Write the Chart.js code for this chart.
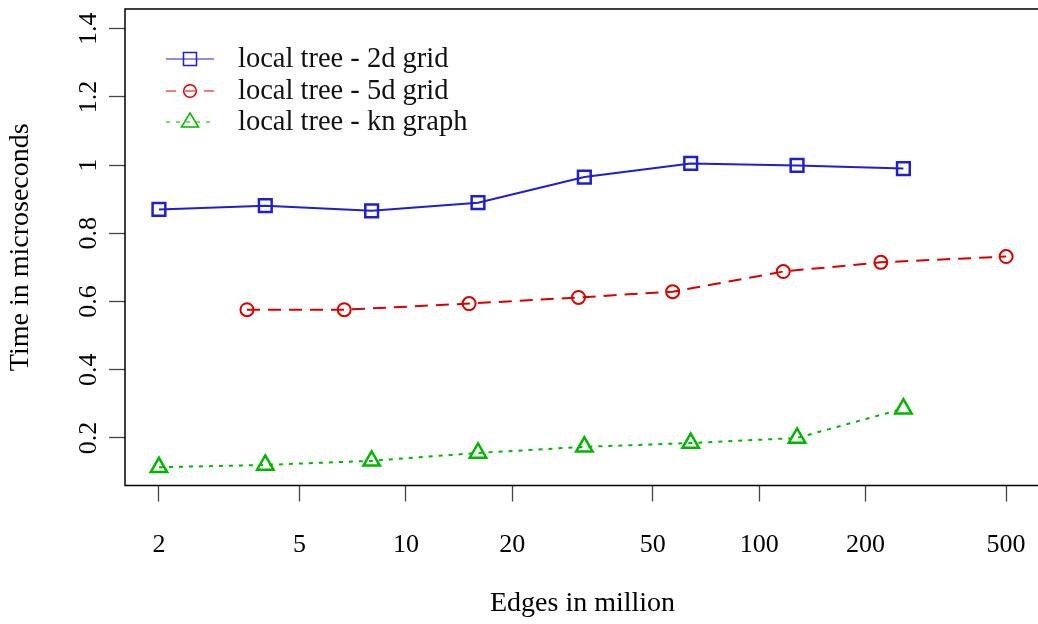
<!DOCTYPE html>
<html>
<head>
<meta charset="utf-8">
<script src="https://cdn.jsdelivr.net/npm/chart.js@4/dist/chart.umd.min.js"></script>
<style>
  html, body { margin: 0; padding: 0; background: #fff; overflow: hidden; }
  #wrap { width: 1040px; height: 624px; }
</style>
</head>
<body>
<div id="wrap"><canvas id="myChart"></canvas></div>
<script>
// data
const edges2d = [2, 4, 8, 16, 32, 64, 128, 256];
const time2d = [0.870, 0.881, 0.866, 0.890, 0.965, 1.005, 0.999, 0.990];

const edges5d = [3.55, 6.69, 15.1, 30.8, 56.9, 117, 221, 500];
const time5d = [0.576, 0.576, 0.594, 0.612, 0.629, 0.688, 0.715, 0.732];

const edgesKn = [2, 4, 8, 16, 32, 64, 128, 256];
const timeKn = [0.114, 0.121, 0.133, 0.156, 0.174, 0.185, 0.200, 0.286];

const xTicks = [2, 5, 10, 20, 50, 100, 200, 500];
const yTicks = [0.2, 0.4, 0.6, 0.8, 1, 1.2, 1.4];

const seriesNames = ['local tree - 2d grid', 'local tree - 5d grid', 'local tree - kn graph'];

const FONT = '"Liberation Serif", "DejaVu Serif", serif';
const BLUE = '#1f1fcf';
const RED = '#d40000';
const GREEN = '#00b400';

function pts(xs, ys) {
  return xs.map((x, i) => ({ x: x, y: ys[i] }));
}

// y tick labels are rotated like in R, so we draw them ourselves
// plus the legend and the box (left, top, bottom)
const extras = {
  id: 'extras',
  afterDraw(chart) {
    const ctx = chart.ctx;
    const area = chart.chartArea;
    const ys = chart.scales.y;

    ctx.save();
    ctx.strokeStyle = '#000';
    ctx.lineWidth = 1.5;
    ctx.beginPath();
    ctx.moveTo(area.right, area.top);
    ctx.lineTo(area.left, area.top);
    ctx.lineTo(area.left, area.bottom);
    ctx.lineTo(area.right, area.bottom);
    ctx.stroke();

    ctx.fillStyle = '#000';
    ctx.font = '26px ' + FONT;
    ctx.textAlign = 'center';
    ctx.textBaseline = 'middle';
    yTicks.forEach(v => {
      const py = ys.getPixelForValue(v);
      ctx.save();
      ctx.translate(89, py);
      ctx.rotate(-Math.PI / 2);
      ctx.fillText(String(v), 0, 0);
      ctx.restore();
    });

    // legend
    const colors = [BLUE, RED, GREEN];
    const dashes = [[], [10, 9], [4, 6]];
    const shapes = ['rect', 'circle', 'triangle'];
    const rowY = [59, 91, 122];
    ctx.font = '28.5px ' + FONT;
    for (let i = 0; i < 3; i++) {
      const y = rowY[i];
      ctx.strokeStyle = colors[i];
      ctx.lineWidth = 1.2;
      ctx.setLineDash(dashes[i]);
      ctx.beginPath();
      ctx.moveTo(166, y);
      ctx.lineTo(214, y);
      ctx.stroke();
      ctx.setLineDash([]);
      ctx.lineWidth = 1.5;
      ctx.beginPath();
      if (shapes[i] === 'rect') {
        ctx.rect(183.5, y - 6.5, 13, 13);
      } else if (shapes[i] === 'circle') {
        ctx.arc(190, y, 6.3, 0, Math.PI * 2);
      } else {
        ctx.moveTo(190, y - 9);
        ctx.lineTo(198.5, y + 5);
        ctx.lineTo(181.5, y + 5);
        ctx.closePath();
      }
      ctx.stroke();
      ctx.fillStyle = '#111';
      ctx.textAlign = 'left';
      ctx.fillText(seriesNames[i], 238, y + 1);
    }
    ctx.restore();
  }
};

const context = document.getElementById('myChart').getContext('2d');
const myChart = new Chart(context, {
  type: 'line',
  data: {
    datasets: [
      {
        label: seriesNames[0],
        data: pts(edges2d, time2d),
        borderColor: BLUE,
        backgroundColor: 'rgba(0,0,0,0)',
        borderWidth: 2,
        pointStyle: 'rect',
        pointRadius: 9,
        pointBorderWidth: 2.5,
        pointBorderColor: BLUE,
        pointBackgroundColor: 'rgba(0,0,0,0)',
        fill: false,
        tension: 0
      },
      {
        label: seriesNames[1],
        data: pts(edges5d, time5d),
        borderColor: RED,
        backgroundColor: 'rgba(0,0,0,0)',
        borderWidth: 2,
        borderDash: [13, 8],
        pointStyle: 'circle',
        pointRadius: 6.5,
        pointBorderWidth: 2,
        pointBorderColor: RED,
        pointBackgroundColor: 'rgba(0,0,0,0)',
        fill: false,
        tension: 0
      },
      {
        label: seriesNames[2],
        data: pts(edgesKn, timeKn),
        borderColor: GREEN,
        backgroundColor: 'rgba(0,0,0,0)',
        borderWidth: 2,
        borderDash: [4, 6],
        pointStyle: 'triangle',
        pointRadius: 9.5,
        pointBorderWidth: 2.5,
        pointBorderColor: GREEN,
        pointBackgroundColor: 'rgba(0,0,0,0)',
        fill: false,
        tension: 0
      }
    ]
  },
  options: {
    responsive: true,
    maintainAspectRatio: false,
    animation: false,
    layout: { autoPadding: false, padding: { top: 9, right: 0, bottom: 0, left: 0 } },
    scales: {
      x: {
        type: 'logarithmic',
        min: 1.603,
        max: 623.6,
        afterBuildTicks: s => { s.ticks = xTicks.map(v => ({ value: v })); },
        afterFit: s => { s.height = 138.5; s.paddingLeft = 0; s.paddingRight = 0; },
        grid: {
          drawOnChartArea: false,
          drawTicks: true,
          tickLength: 16,
          tickWidth: 1.3,
          tickColor: '#444'
        },
        border: { display: false },
        ticks: {
          autoSkip: false,
          maxRotation: 0,
          padding: 28,
          color: '#000',
          font: { family: FONT, size: 26 },
          callback: v => String(v)
        },
        title: {
          display: true,
          text: 'Edges in million',
          color: '#000',
          font: { family: FONT, size: 28 },
          padding: { top: 0, bottom: 4 }
        }
      },
      y: {
        min: 0.0606,
        max: 1.4578,
        afterBuildTicks: s => { s.ticks = yTicks.map(v => ({ value: v })); },
        afterFit: s => { s.width = 125; s.paddingTop = 0; s.paddingBottom = 0; },
        grid: {
          drawOnChartArea: false,
          drawTicks: true,
          tickLength: 16,
          tickWidth: 1.3,
          tickColor: '#444'
        },
        border: { display: false },
        ticks: { display: false },
        title: {
          display: true,
          text: 'Time in microseconds',
          color: '#000',
          font: { family: FONT, size: 28 },
          padding: { top: 4, bottom: 0 }
        }
      }
    },
    plugins: {
      legend: { display: false },
      tooltip: { enabled: false }
    }
  },
  plugins: [extras]
});
</script>
</body>
</html>
